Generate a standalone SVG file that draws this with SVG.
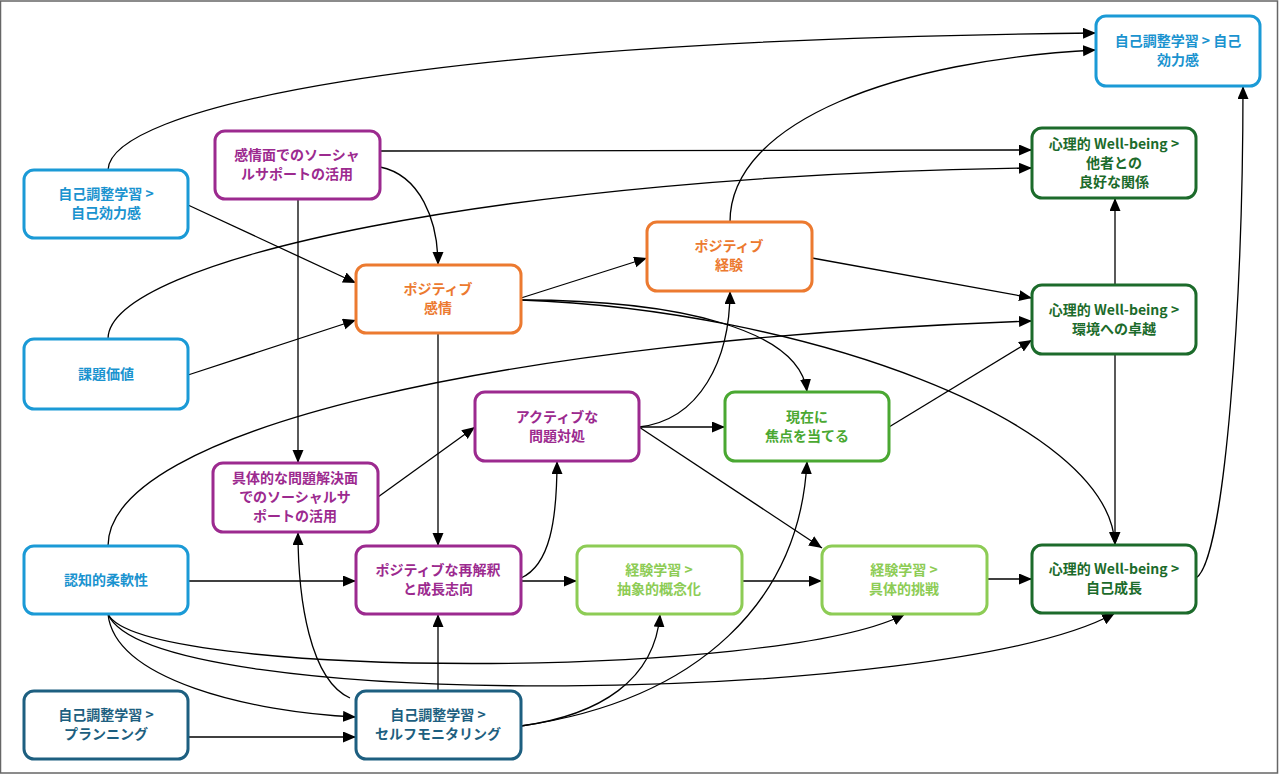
<svg xmlns="http://www.w3.org/2000/svg" width="1280" height="775" viewBox="0 0 1280 775">
<style>
.n rect{fill:#fff;stroke-width:3}
.n text{font-family:"Noto Sans CJK JP","Noto Sans",sans-serif;font-size:14px;font-weight:bold;text-anchor:middle}
.blue rect{stroke:#1b9ad6}.blue text{fill:#1a93cf}
.pur rect{stroke:#9c2a8f}.pur text{fill:#9c2a8f}
.org rect{stroke:#ec7a30}.org text{fill:#ec7a30}
.dg rect{stroke:#1c6b2b}.dg text{fill:#1c6b2b}
.mg rect{stroke:#4aa832}.mg text{fill:#4aa832}
.lg rect{stroke:#8dcc55}.lg text{fill:#8dcc55}
.tl rect{stroke:#1d5f80}.tl text{fill:#1d5f80}
#edges path{fill:none;stroke:#000;stroke-width:1.3;marker-end:url(#ah)}
</style>
<defs>
<marker id="ah" markerUnits="userSpaceOnUse" markerWidth="14" markerHeight="12" refX="13" refY="5.5" orient="auto">
<path d="M0,0 L13,5.5 L0,11 z" fill="#000"/>
</marker>
</defs>
<rect x="0" y="0" width="1280" height="775" fill="#fff"/>
<rect x="0.5" y="1" width="1277" height="772" fill="none" stroke="#666" stroke-width="1.5"/>
<g id="edges">
<path d="M108,170 C110,110 400,40 1096,33"/>
<path d="M188,205 L356,283"/>
<path d="M380,151 L1032,150"/>
<path d="M380,167 C420,175 438,220 438,265"/>
<path d="M298,199 L298,463"/>
<path d="M108,339 C108,260 500,175 1032,168"/>
<path d="M188,375 L356,320"/>
<path d="M521,298 L647,258"/>
<path d="M521,300 C680,300 800,330 807,392"/>
<path d="M521,300 C800,310 1110,420 1115,545"/>
<path d="M438,333 L438,546"/>
<path d="M730,222 C730,120 900,60 1096,50"/>
<path d="M812,258 L1032,298"/>
<path d="M108,546 C108,430 500,340 1032,321"/>
<path d="M188,581 L356,581"/>
<path d="M108,614 C140,680 780,680 905,614"/>
<path d="M108,614 C150,715 950,705 1115,613"/>
<path d="M108,614 C115,680 250,712 356,717"/>
<path d="M188,737 L356,737"/>
<path d="M438,691 L438,614"/>
<path d="M350,698 C310,680 298,600 298,532"/>
<path d="M521,726 C600,715 655,680 660,614"/>
<path d="M521,726 C700,700 800,600 807,461"/>
<path d="M378,497 L475,427"/>
<path d="M521,578 C550,565 557,520 557,461"/>
<path d="M521,581 L577,581"/>
<path d="M639,427 L725,427"/>
<path d="M639,427 C700,420 730,360 730,291"/>
<path d="M639,427 L822,548"/>
<path d="M889,427 L1032,340"/>
<path d="M742,581 L822,581"/>
<path d="M987,579 L1032,579"/>
<path d="M1115,285 L1115,198"/>
<path d="M1115,354 L1115,545"/>
<path d="M1196,578 C1225,560 1243,300 1243,86"/>
</g>
<g id="n_se_top" class="n blue"><rect x="1096" y="16" width="164" height="70" rx="10"/><text x="1178" y="46">自己調整学習 &gt; 自己<tspan x="1178" dy="19">効力感</tspan></text></g>
<g id="n_se_left" class="n blue"><rect x="24" y="170" width="164" height="68" rx="10"/><text x="106" y="199">自己調整学習 &gt;<tspan x="106" dy="19">自己効力感</tspan></text></g>
<g id="n_emo_support" class="n pur"><rect x="215" y="131" width="165" height="68" rx="10"/><text x="297" y="160">感情面でのソーシャ<tspan x="297" dy="19">ルサポートの活用</tspan></text></g>
<g id="n_pos_emotion" class="n org"><rect x="356" y="265" width="165" height="68" rx="10"/><text x="438" y="294">ポジティブ<tspan x="438" dy="19">感情</tspan></text></g>
<g id="n_pos_exp" class="n org"><rect x="647" y="222" width="165" height="69" rx="10"/><text x="729" y="251">ポジティブ<tspan x="729" dy="19">経験</tspan></text></g>
<g id="n_wb_rel" class="n dg"><rect x="1032" y="128" width="164" height="70" rx="10"/><text x="1114" y="149">心理的 Well-being &gt;<tspan x="1114" dy="19">他者との</tspan><tspan x="1114" dy="19">良好な関係</tspan></text></g>
<g id="n_wb_mastery" class="n dg"><rect x="1032" y="285" width="164" height="69" rx="10"/><text x="1114" y="315">心理的 Well-being &gt;<tspan x="1114" dy="19">環境への卓越</tspan></text></g>
<g id="n_task_value" class="n blue"><rect x="24" y="339" width="164" height="70" rx="10"/><text x="106" y="379">課題価値</text></g>
<g id="n_active" class="n pur"><rect x="475" y="392" width="164" height="69" rx="10"/><text x="557" y="422">アクティブな<tspan x="557" dy="19">問題対処</tspan></text></g>
<g id="n_present" class="n mg"><rect x="725" y="392" width="164" height="69" rx="10"/><text x="807" y="422">現在に<tspan x="807" dy="19">焦点を当てる</tspan></text></g>
<g id="n_conc_support" class="n pur"><rect x="213" y="463" width="165" height="69" rx="10"/><text x="295" y="483">具体的な問題解決面<tspan x="295" dy="19">でのソーシャルサ</tspan><tspan x="295" dy="19">ポートの活用</tspan></text></g>
<g id="n_cogflex" class="n blue"><rect x="24" y="546" width="164" height="68" rx="10"/><text x="106" y="585">認知的柔軟性</text></g>
<g id="n_reappraisal" class="n pur"><rect x="356" y="546" width="165" height="68" rx="10"/><text x="438" y="575">ポジティブな再解釈<tspan x="438" dy="19">と成長志向</tspan></text></g>
<g id="n_abstract" class="n lg"><rect x="577" y="546" width="165" height="68" rx="10"/><text x="659" y="575">経験学習 &gt;<tspan x="659" dy="19">抽象的概念化</tspan></text></g>
<g id="n_challenge" class="n lg"><rect x="822" y="546" width="165" height="68" rx="10"/><text x="904" y="575">経験学習 &gt;<tspan x="904" dy="19">具体的挑戦</tspan></text></g>
<g id="n_wb_growth" class="n dg"><rect x="1032" y="545" width="164" height="68" rx="10"/><text x="1114" y="574">心理的 Well-being &gt;<tspan x="1114" dy="19">自己成長</tspan></text></g>
<g id="n_planning" class="n tl"><rect x="24" y="691" width="164" height="68" rx="10"/><text x="106" y="720">自己調整学習 &gt;<tspan x="106" dy="19">プランニング</tspan></text></g>
<g id="n_monitoring" class="n tl"><rect x="356" y="691" width="165" height="68" rx="10"/><text x="438" y="720">自己調整学習 &gt;<tspan x="438" dy="19">セルフモニタリング</tspan></text></g>
</svg>
